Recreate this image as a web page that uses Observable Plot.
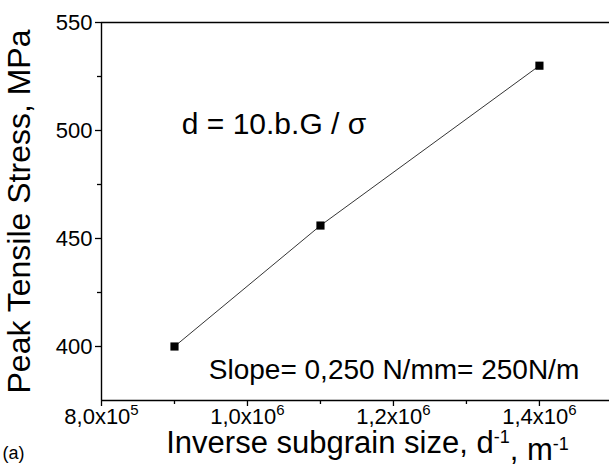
<!DOCTYPE html>
<html><head><meta charset="utf-8">
<script src="https://cdn.jsdelivr.net/npm/d3@7"></script>
<script src="https://cdn.jsdelivr.net/npm/@observablehq/plot@0.6"></script>
<style>body{margin:0;background:#fff;} #chart{width:609px;height:470px;overflow:hidden;}</style>
</head><body><div id="chart"></div>
<script>
// data
const invSize = [9e5, 1.1e6, 1.4e6];          // inverse subgrain size, m^-1
const stress = [400, 456, 530];               // peak tensile stress, MPa
const xTicks = [8e5, 1e6, 1.2e6, 1.4e6];
const xTickMant = ["8,0x10", "1,0x10", "1,2x10", "1,4x10"];
const xTickExp = ["5", "6", "6", "6"];
const xMinor = [9e5, 1.1e6, 1.3e6];
const yTicks = [400, 450, 500, 550];
const yMinor = [425, 475, 525];
const yLabel = "Peak Tensile Stress, MPa";
const xLabelParts = ["Inverse subgrain size, d", "-1", ", m", "-1"];
const formulaText = "d = 10.b.G / σ";
const slopeText = "Slope= 0,250 N/mm= 250N/m";
const panelText = "(a)";

const data = invSize.map((x, i) => ({x, y: stress[i]}));
const FONT = "'Liberation Sans', Arial, Helvetica, sans-serif";
const xLabelJoined = xLabelParts.join("");

const plot = Plot.plot({
  width: 609,
  height: 470,
  marginLeft: 101,
  marginRight: 0,
  marginTop: 22,
  marginBottom: 70,
  style: {fontFamily: FONT, fontSize: "22px", background: "#fff", color: "#000", overflow: "visible"},
  x: {domain: [8e5, 1.496e6]},
  y: {domain: [375, 550]},
  marks: [
    Plot.ruleY([550], {stroke: "#000", strokeWidth: 1.4}),
    Plot.ruleY([375], {stroke: "#000", strokeWidth: 1.4}),
    Plot.ruleX([8e5], {stroke: "#000", strokeWidth: 1.4}),
    Plot.axisY(yTicks, {tickSize: 6, tickPadding: 3, fontSize: 22, label: null, strokeWidth: 1.3}),
    Plot.axisY(yMinor, {tickSize: 4, text: null, label: null, strokeWidth: 1.3}),
    Plot.axisX(xTicks, {tickSize: 6, tickPadding: 2, fontSize: 22, label: null, strokeWidth: 1.3,
      tickFormat: (d) => xTickMant[xTicks.indexOf(d)] + xTickExp[xTicks.indexOf(d)]}),
    Plot.axisX(xMinor, {tickSize: 4, text: null, label: null, strokeWidth: 1.3}),
    Plot.text([yLabel], {text: (d) => d, frameAnchor: "left", textAnchor: "middle", dx: -82, rotate: -90,
      fontSize: 32, fill: "#000"}),
    Plot.text([xLabelJoined], {text: (d) => d, frameAnchor: "bottom", textAnchor: "middle", dx: 12, dy: 52,
      fontSize: 31, fill: "#000"}),
    Plot.text([panelText], {text: (d) => d, frameAnchor: "bottom-left", textAnchor: "start", dx: -99, dy: 58,
      fontSize: 18, fill: "#000"}),
    Plot.text([formulaText], {text: (d) => d, x: 9.1e5, y: 503, textAnchor: "start",
      fontSize: 30, fill: "#000"}),
    Plot.text([slopeText], {text: (d) => d, x: 9.47e5, y: 389, textAnchor: "start",
      fontSize: 28, fill: "#000"}),
    Plot.line(data, {x: "x", y: "y", stroke: "#000", strokeWidth: 0.8}),
    Plot.dot(data, {x: "x", y: "y", symbol: "square", r: 4.6, fill: "#000", stroke: "none"})
  ]
});
document.getElementById("chart").appendChild(plot);

const svg = d3.select(plot);
svg.selectAll('g[aria-label="x-axis tick label"], g[aria-label="y-axis tick label"]')
  .attr("font-size", "22px").style("font-size", "22px");
// superscripts
svg.selectAll("text").each(function () {
  const t = d3.select(this);
  const s = t.text();
  const i = xTickMant.findIndex((m, k) => s === m + xTickExp[k]);
  if (i >= 0) {
    t.text(null);
    t.append("tspan").text(xTickMant[i]);
    t.append("tspan").attr("dy", "-0.6em").style("font-size", "15px").text(xTickExp[i]);
  } else if (s === xLabelJoined) {
    t.text(null);
    t.append("tspan").text(xLabelParts[0]);
    t.append("tspan").attr("dy", "-0.55em").style("font-size", "18px").text(xLabelParts[1]);
    t.append("tspan").attr("dy", "0.55em").text(xLabelParts[2]);
    t.append("tspan").attr("dy", "-0.55em").style("font-size", "18px").text(xLabelParts[3]);
  }
});
</script></body></html>
